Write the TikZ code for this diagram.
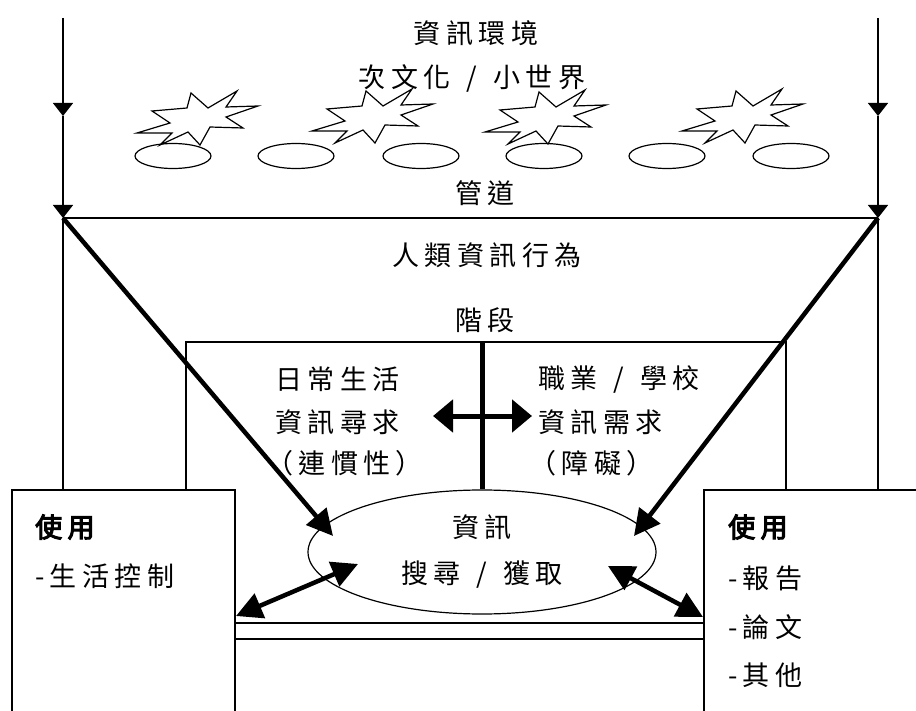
\documentclass[tikz,border=0pt]{standalone}
\usepackage{fontspec}
\newfontfamily\cjk{Noto Sans CJK TC}[LetterSpace=20]
\newfontfamily\cjkbold{Noto Sans CJK TC}[LetterSpace=20, FakeBold=4]
\usetikzlibrary{arrows.meta,shapes.geometric}
\newcommand{\sep}{\hspace{16pt}/\hspace{16pt}}
\tikzset{
  lbl/.style={font=\cjk\fontsize{27}{30}\selectfont, inner sep=0pt},
  blbl/.style={font=\cjkbold\fontsize{27}{30}\selectfont, inner sep=0pt},
  thinln/.style={line width=1.4pt},
  heavy/.style={line width=4.5pt},
  smalltip/.style={-{Triangle[length=13pt,width=20pt]}},
  bigtip/.style={-{Triangle[length=26pt,width=26pt]}},
  bothtip/.style={{Triangle[length=26pt,width=26pt]}-{Triangle[length=26pt,width=26pt]}},
  crosstip/.style={{Triangle[length=20pt,width=32pt]}-{Triangle[length=20pt,width=32pt]}},
  oval/.style={ellipse, draw, line width=1.2pt, minimum width=76pt, minimum height=25pt, inner sep=0pt},
  boom/.pic={\draw[line width=1.2pt, fill=white, line join=miter]
     (-60,15) -- (-27,5) -- (-45,-7) -- (-10,-10) -- (-6,-25) -- (11,-10) -- (40,-27)
     -- (29,-11) -- (61,-12) -- (29,-1) -- (46,10) -- (13,9) -- (3,27) -- (-9,14)
     -- (-37,27) -- (-25,15) -- cycle;}
}
\begin{document}
\begin{tikzpicture}[x=1pt,y=-1pt]
\useasboundingbox (0,0) rectangle (916,711);
% coordinates
\coordinate (lt) at (63,18);
\coordinate (la1) at (63,116);
\coordinate (la2) at (63,218);
\coordinate (lb) at (63,490);
\coordinate (rt) at (878,18);
\coordinate (ra1) at (878,116);
\coordinate (ra2) at (878,218);
\coordinate (rb) at (878,490);
% outer verticals with arrows
\draw[thinln, smalltip] (lt) -- (la1);
\draw[thinln, smalltip] (la1) -- (la2);
\draw[thinln] (la2) -- (lb);
\draw[thinln, smalltip] (rt) -- (ra1);
\draw[thinln, smalltip] (ra1) -- (ra2);
\draw[thinln] (ra2) -- (rb);
\draw[thinln] (la2) -- (ra2);
% inner rectangle
\coordinate (ia) at (186,490);
\coordinate (ib) at (186,342);
\coordinate (ic) at (786,342);
\coordinate (id) at (786,490);
\draw[thinln] (ia) -- (ib) -- (ic) -- (id);
% ellipses
\node[oval] (o1) at (173,156) {};
\node[oval] (o2) at (296,156) {};
\node[oval] (o3) at (421,156) {};
\node[oval] (o4) at (544,156) {};
\node[oval] (o5) at (667,156) {};
\node[oval] (o6) at (791,156) {};
% stars
\pic at (197,118) {boom};
\pic at (372,116) {boom};
\pic at (545,117) {boom};
\pic at (742,116) {boom};
% texts top
\node[lbl] (env) at (476,33) {資訊環境};
\node[lbl] (sub) at (472,78) {次文化\sep 小世界};
\node[lbl] (chan) at (485,193) {管道};
\node[lbl] (hib) at (487,255) {人類資訊行為};
\node[lbl] (stage) at (485,320) {階段};
% inner texts
\node[lbl, anchor=west] (l1) at (275,379) {日常生活};
\node[lbl, anchor=west] (l2) at (275,422) {資訊尋求};
\node[lbl, anchor=west] (l3) at (266,463) {（連慣性）};
\node[lbl, anchor=west] (r1) at (538,379) {職業\sep 學校};
\node[lbl, anchor=west] (r2) at (538,422) {資訊需求};
\node[lbl, anchor=west] (r3) at (529,463) {（障礙）};
% info ellipse
\node[ellipse, draw, line width=1.2pt, minimum width=348pt, minimum height=124pt, inner sep=0pt] (info) at (482,552) {};
\node[lbl] (i1) at (482,527) {資訊};
\node[lbl] (i2) at (482,575) {搜尋\sep 獲取};
% center vertical and cross arrow
\coordinate (vt) at (482,342);
\draw[line width=5pt] (vt) -- (info.north);
\coordinate (ha) at (433,416);
\coordinate (hb) at (532,416);
\draw[line width=5pt, crosstip] (ha) -- (hb);
% bottom boxes
\draw[thinln] (12,490) rectangle (235,720);
\draw[thinln] (704,490) rectangle (922,720);
\coordinate (bl1) at (235,623);
\coordinate (br1) at (704,623);
\coordinate (bl2) at (235,639);
\coordinate (br2) at (704,639);
\draw[thinln] (bl1) -- (br1);
\draw[thinln] (bl2) -- (br2);
\node[blbl, anchor=west] (u1) at (35,527) {使用};
\node[lbl, anchor=west] (u2) at (35,576) {-生活控制};
\node[blbl, anchor=west] (v1) at (728,527) {使用};
\node[lbl, anchor=west] (v2) at (728,578) {-報告};
\node[lbl, anchor=west] (v3) at (728,627) {-論文};
\node[lbl, anchor=west] (v4) at (728,675) {-其他};
% diagonal arrows
\coordinate (dl) at (333,536);
\coordinate (dr) at (634,536);
\draw[heavy, bigtip] (la2) -- (dl);
\draw[heavy, bigtip] (ra2) -- (dr);
% double arrows to boxes
\coordinate (el) at (358,564);
\coordinate (bl) at (236,616);
\coordinate (er) at (608,566);
\coordinate (br) at (703,617);
\draw[heavy, bothtip] (el) -- (bl);
\draw[heavy, bothtip] (er) -- (br);
\end{tikzpicture}
\end{document}
